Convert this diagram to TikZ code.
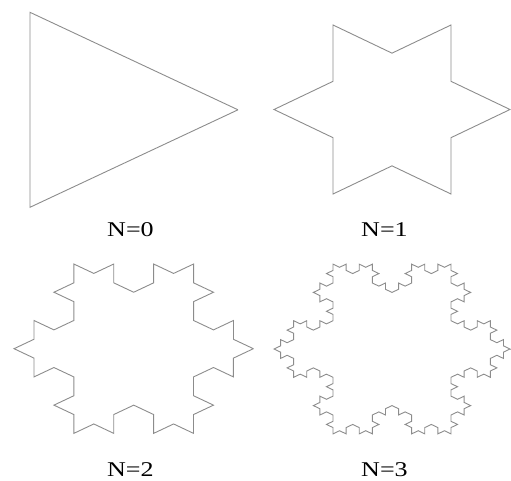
\documentclass[tikz,border=0pt]{standalone}
\usepackage{fontspec}
\setmainfont{Liberation Serif}
\usetikzlibrary{lindenmayersystems}
\pgfdeclarelindenmayersystem{KochFlake}{\rule{F -> F-F++F-F}}
\begin{document}
\begin{tikzpicture}[x=1pt,y=1pt,
  flake/.style={draw=black!45, line width=0.9pt, line join=miter},
  lab/.style={font=\fontsize{21}{25}\selectfont, inner sep=0pt}]
\useasboundingbox (0,0) rectangle (511,-480);
\foreach \n/\cx/\cy/\rx/\ry in {0/99.3/109.8/138.7/112.6, 1/392/109.5/118/97.6, 2/133.7/348.7/119.7/97.8, 3/392/349/118/98} {
  \pgfmathsetmacro\st{173.205/(3^\n)}
  \begin{scope}[shift={(\cx,-\cy)}, xscale=\rx/100, yscale=\ry/100]
    \begin{scope}[shift={(100,0)}, rotate=150]
      \draw[flake, lindenmayer system={KochFlake, axiom=F++F++F, order=\n, step=\st pt, angle=60}] (0,0) lindenmayer system -- cycle;
    \end{scope}
  \end{scope}
}
\node[lab] (l0) at (130.5,-229.7) {\scalebox{1.24}[1]{N=0}};
\node[lab] (l1) at (384.5,-229.7) {\scalebox{1.24}[1]{N=1}};
\node[lab] (l2) at (130.3,-469.7) {\scalebox{1.24}[1]{N=2}};
\node[lab] (l3) at (384.5,-469.7) {\scalebox{1.24}[1]{N=3}};
\end{tikzpicture}
\end{document}
